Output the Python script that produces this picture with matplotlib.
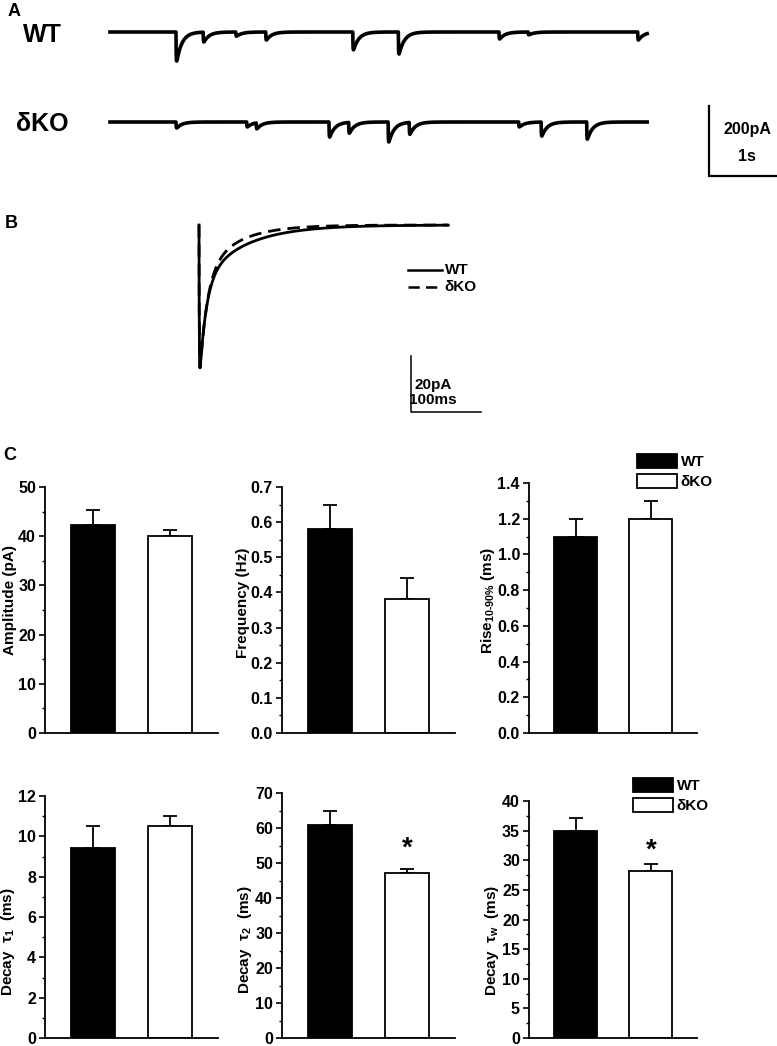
import numpy as np
import matplotlib.pyplot as plt
from matplotlib.patches import Patch
from matplotlib.ticker import MultipleLocator

plt.rcParams['font.family'] = ['Liberation Sans', 'DejaVu Sans']
plt.rcParams['font.weight'] = 'bold'
plt.rcParams['axes.labelweight'] = 'bold'
plt.rcParams['mathtext.fontset'] = 'custom'
plt.rcParams['mathtext.rm'] = 'Liberation Sans'
plt.rcParams['mathtext.bf'] = 'Liberation Sans:bold'
plt.rcParams['mathtext.default'] = 'bf'

W, H = 777, 1046

# A: spontaneous events (time in s, amplitude in pA)
wt_event_t = [0.97, 1.37, 1.85, 2.29, 3.57, 4.24, 5.72, 6.15, 7.76]
wt_event_amp = [83, 28, 12, 23, 51, 63, 20, 8, 23]
ko_event_t = [0.97, 2.01, 2.15, 3.22, 3.51, 4.09, 4.40, 6.01, 6.34, 7.01]
ko_event_amp = [17, 14, 17, 43, 31, 57, 34, 14, 40, 49]
trace_len = 7.9

# B: averaged events (peak pA, decay taus in ms, slow component fraction)
avg_labels = ['WT', 'δKO']
avg_peak = [51, 51]
avg_tau1 = [9.4, 10.5]
avg_tau2 = [61, 47]
avg_slow_frac = [0.36, 0.33]
avg_len = 356

# C: group means and SEM
groups = ['WT', 'δKO']
amp_mean, amp_err = [42.2, 40.1], [3.1, 1.2]
freq_mean, freq_err = [0.58, 0.38], [0.07, 0.06]
rise_mean, rise_err = [1.10, 1.20], [0.10, 0.10]
tau1_mean, tau1_err = [9.4, 10.5], [1.1, 0.5]
tau2_mean, tau2_err = [61.0, 47.2], [4.0, 1.2]
tauw_mean, tauw_err = [34.9, 28.2], [2.3, 1.2]

fig = plt.figure(figsize=(W / 100, H / 100), dpi=100)


def px_axes(x0, y0, x1, y1):
    return fig.add_axes([x0 / W, 1 - y1 / H, (x1 - x0) / W, (y1 - y0) / H])


def ftext(x, y, s, **kw):
    fig.text(x / W, 1 - y / H, s, **kw)


def event_trace(t, times, amps, rise=0.003, decay=0.08):
    y = np.zeros_like(t)
    peak = (decay / (rise + decay)) * (rise / (rise + decay)) ** (rise / decay)
    for t0, a in zip(times, amps):
        s = np.clip(t - t0, 0, None)
        k = (1 - np.exp(-s / rise)) * np.exp(-s / decay)
        y -= a * k / peak
    return y


# ---------------- A ----------------
axA = px_axes(0, 0, W, 190)
axA.axis('off')
axA.set_xlim(-110 / 68, 667 / 68)
axA.set_ylim(-(190 - 32) / 0.35, 32 / 0.35)
t = np.arange(0, trace_len, 0.0005)
ko_off = -(122 - 32) / 0.35
axA.plot(t, event_trace(t, wt_event_t, wt_event_amp), color='black', lw=2.6)
axA.plot(t, ko_off + event_trace(t, ko_event_t, ko_event_amp), color='black', lw=2.6)
# scale bar 200 pA / 1 s
sb_x = (709 - 110) / 68
sb_y0 = -(176 - 32) / 0.35
axA.plot([sb_x, sb_x, sb_x + 1.0], [sb_y0 + 200, sb_y0, sb_y0], color='black', lw=1.6,
         solid_joinstyle='miter', clip_on=False)
axA.text(sb_x + 0.56, sb_y0 + 132, '200pA', ha='center', va='center', fontsize=11.5)
axA.text(sb_x + 0.56, sb_y0 + 55, '1s', ha='center', va='center', fontsize=11.5)

ftext(8, 12, 'A', fontsize=13, va='center')
ftext(23, 35, 'WT', fontsize=18, va='center')
ftext(16, 124, 'δKO', fontsize=18, va='center')

# ---------------- B ----------------
axB = px_axes(150, 190, 560, 420)
axB.axis('off')
axB.set_xlim(-(199 - 150) / 0.7, (560 - 199) / 0.7)
axB.set_ylim(-(420 - 225) / 2.8, (225 - 190) / 2.8)
tb = np.concatenate([[0.0], np.linspace(0.05, avg_len, 1500)])
styles = ['-', (0, (4.5, 2.5))]
for i in range(2):
    env = (1 - np.exp(-tb / 0.4)) * ((1 - avg_slow_frac[i]) * np.exp(-tb / avg_tau1[i])
                                     + avg_slow_frac[i] * np.exp(-tb / avg_tau2[i]))
    yb = -avg_peak[i] * env / env.max()
    axB.plot(tb, yb, color='black', lw=2.0, linestyle=styles[i])
sbx = (411 - 199) / 0.7
sby = -(412 - 225) / 2.8
axB.plot([sbx, sbx, sbx + 100], [sby + 20, sby, sby], color='black', lw=1.1, clip_on=False)
axB.text(sbx + 31, sby + 9.8, '20pA', ha='center', va='center', fontsize=11)
axB.text(sbx + 31, sby + 4.4, '100ms', ha='center', va='center', fontsize=11)
lx0, lx1 = (408 - 199) / 0.7, (442 - 199) / 0.7
for i, ly in enumerate([-(270 - 225) / 2.8, -(287 - 225) / 2.8]):
    axB.plot([lx0, lx1], [ly, ly], color='black', lw=1.8, linestyle=styles[i])
    axB.text(lx1 + 4, ly, avg_labels[i], ha='left', va='center', fontsize=11)
ftext(5, 224, 'B', fontsize=13, va='center')

# ---------------- C ----------------
ftext(3, 455, 'C', fontsize=13, va='center')


def bar_panel(rect, mean, err, top, major, minor, ylabel, fmt, label_y, star=None, legend=None):
    ax = px_axes(*rect)
    x = [1, 2]
    ax.bar(x, mean, width=0.567, color=['black', 'white'], edgecolor='black', linewidth=1.3, zorder=2)
    ax.errorbar(x, mean, yerr=[[0, 0], err], fmt='none', ecolor='black', elinewidth=1.3,
                capsize=5, capthick=1.3, zorder=1)
    ax.set_xlim(0.382, 2.614)
    ax.set_ylim(0, top)
    ax.set_xticks([])
    ax.yaxis.set_major_locator(MultipleLocator(major))
    ax.yaxis.set_minor_locator(MultipleLocator(minor))
    ax.yaxis.set_major_formatter(plt.FormatStrFormatter(fmt))
    ax.tick_params(axis='y', which='major', direction='out', length=4, width=1.2, labelsize=11.5, pad=2.5)
    ax.tick_params(axis='y', which='minor', direction='out', length=2.5, width=1.0)
    for s in ['top', 'right']:
        ax.spines[s].set_visible(False)
    for s in ['left', 'bottom']:
        ax.spines[s].set_linewidth(1.3)
    ax.set_ylabel(ylabel, fontsize=11, labelpad=0.5, y=label_y)
    if star is not None:
        ax.annotate('*', xy=(2, mean[1] + err[1]), xytext=(0, star), textcoords='offset points',
                    ha='center', va='baseline', fontsize=20)
    if legend is not None:
        handles = [Patch(facecolor='black', edgecolor='black', lw=1.3),
                   Patch(facecolor='white', edgecolor='black', lw=1.3)]
        fig.legend(handles, groups, loc='upper left', bbox_to_anchor=(legend[0] / W, 1 - legend[1] / H),
                   frameon=False, fontsize=11, handlelength=2.6, handleheight=1.05, labelspacing=0.3,
                   handletextpad=0.25, borderpad=0, borderaxespad=0)
    return ax


bar_panel((45, 487, 218, 733), amp_mean, amp_err, 50, 10, 5, 'Amplitude (pA)', '%d', 0.54)
bar_panel((282, 487, 455, 733), freq_mean, freq_err, 0.7, 0.1, 0.05, 'Frequency (Hz)', '%.1f', 0.53)
bar_panel((529, 483, 697, 733), rise_mean, rise_err, 1.4, 0.2, 0.1, r'Rise$_{\text{10-90%}}$ (ms)', '%.1f', 0.53,
          legend=(637, 454))
bar_panel((45, 796, 218, 1038), tau1_mean, tau1_err, 12, 2, 1, r'Decay  τ$_1$  (ms)', '%d', 0.40)
bar_panel((282, 793, 455, 1038), tau2_mean, tau2_err, 70, 10, 5, r'Decay  τ$_2$  (ms)', '%d', 0.40, star=9)
bar_panel((529, 801, 697, 1038), tauw_mean, tauw_err, 40, 5, 2.5, r'Decay  τ$_w$  (ms)', '%d', 0.41, star=4.5,
          legend=(633, 778))

fig.savefig('out.png', dpi=100)
